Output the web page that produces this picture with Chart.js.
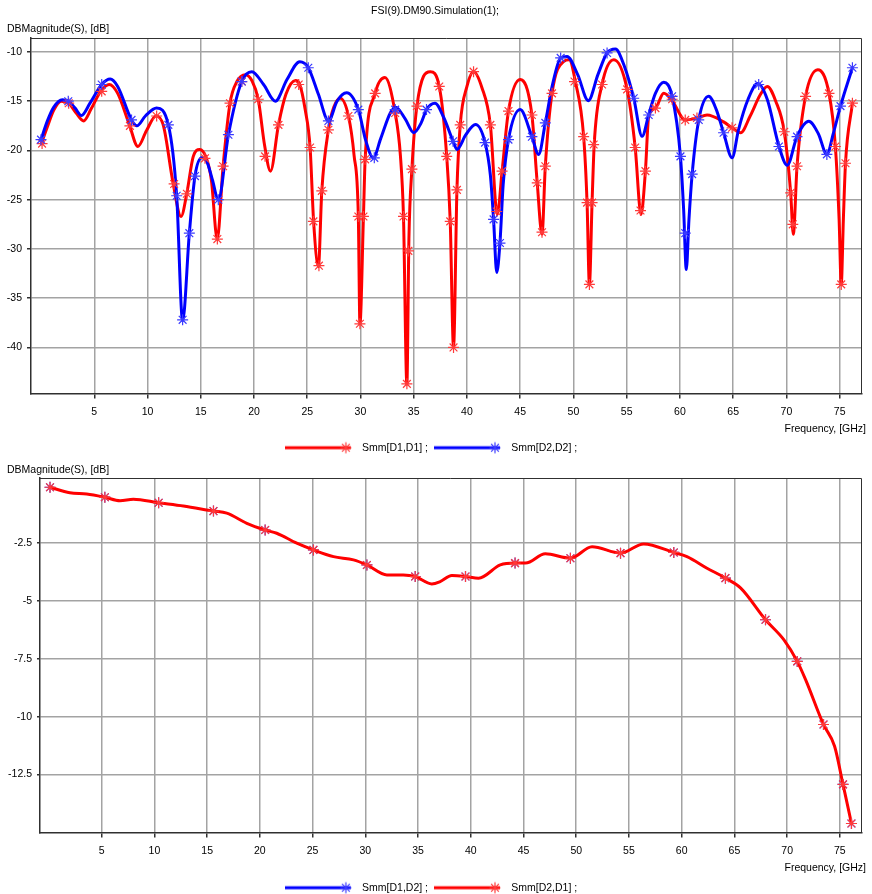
<!DOCTYPE html>
<html><head><meta charset="utf-8">
<script src="https://cdn.jsdelivr.net/npm/chart.js@4.4.1/dist/chart.umd.min.js"></script>
<style>
html,body{margin:0;padding:0;background:#fff;overflow:hidden;width:872px;height:894px;position:relative}
#c1{position:absolute;left:0;top:0}
#c2{position:absolute;left:0;top:440px}
</style></head><body>
<canvas id="c1" width="872" height="463"></canvas>
<canvas id="c2" width="872" height="463"></canvas>
<script>
// ---------- tick labels ----------
const freqTicks = [5,10,15,20,25,30,35,40,45,50,55,60,65,70,75];
const topDbTicks = [-10,-15,-20,-25,-30,-35,-40];
const bottomDbTicks = [-2.5,-5,-7.5,-10,-12.5];

// ---------- top chart: Smm[D1,D1] (red) ----------
const s11Freq = [0.0,0.6,1.2,1.9,2.6,3.3,4.0,4.7,5.6,6.4,7.2,8.3,9.1,9.9,10.8,11.5,12.4,13.15,13.7,14.3,14.9,15.5,16.0,16.55,17.1,17.75,18.4,19.2,19.8,20.4,21.0,21.55,22.3,23.0,23.9,24.3,24.8,25.27,25.6,26.05,26.37,26.99,27.5,28.1,28.87,29.4,29.8,29.95,30.28,30.44,31.38,32.3,33.26,33.75,34.04,34.36,34.55,34.83,35.3,36.55,37.4,38.1,38.43,38.74,39.06,39.37,40.0,40.62,41.4,42.2,42.85,43.3,43.9,45.0,46.1,46.6,47.05,47.36,47.99,49.1,49.6,50.18,50.96,51.28,51.5,51.75,51.95,52.69,53.8,55.04,55.8,56.35,56.76,57.07,57.7,58.48,59.3,60.5,61.6,62.55,64.1,64.9,65.7,66.6,67.57,68.2,69.0,69.8,70.4,70.65,71.0,71.8,72.95,74.0,74.6,74.95,75.15,75.35,75.55,76.2];
const s11Db = [-19.4,-17.6,-15.9,-15.0,-15.2,-16.2,-17.0,-15.8,-14.0,-13.3,-14.2,-17.4,-19.6,-18.0,-16.5,-17.5,-23.3,-26.7,-24.3,-20.6,-19.9,-20.7,-23.0,-29.0,-21.6,-15.2,-13.0,-12.3,-12.9,-14.8,-19.5,-22.1,-17.4,-14.3,-12.9,-13.3,-15.8,-19.7,-27.2,-31.8,-24.1,-17.9,-15.6,-14.7,-16.5,-20.5,-26.7,-37.6,-26.7,-20.9,-14.2,-12.6,-16.2,-20.5,-26.7,-43.7,-29.0,-21.9,-15.5,-12.0,-13.5,-20.6,-27.2,-40.0,-24.0,-17.4,-13.5,-12.0,-13.6,-17.4,-26.5,-22.1,-16.0,-12.8,-16.4,-23.3,-28.5,-21.6,-14.2,-10.95,-10.8,-13.0,-18.6,-25.3,-33.6,-25.3,-19.4,-13.3,-10.8,-13.8,-19.7,-26.5,-22.1,-16.5,-15.7,-14.2,-15.0,-16.9,-16.7,-16.4,-17.1,-17.7,-18.2,-16.5,-14.3,-13.5,-15.0,-18.1,-24.3,-28.5,-21.6,-14.5,-11.8,-14.2,-19.6,-27.0,-33.6,-27.0,-21.3,-15.2];
const s11MarkFreq = [0.1,2.6,5.7,8.35,10.86,12.5,13.7,15.4,16.56,17.1,17.75,18.85,20.4,21.04,22.3,24.2,25.27,25.58,26.1,26.37,26.99,28.87,29.8,29.95,30.28,30.44,31.38,33.26,34.04,34.36,34.5,34.83,35.3,37.4,38.1,38.43,38.74,39.06,39.37,40.62,42.2,42.8,43.3,43.9,46.1,46.6,47.05,47.36,47.99,50.1,50.96,51.28,51.5,51.75,51.9,52.69,55.04,55.8,56.3,56.76,57.7,59.27,60.5,61.6,64.9,69.8,70.4,70.6,71.0,71.8,74.0,74.6,75.15,75.55,76.2];
const s11MarkDb = [-19.3,-15.2,-14.0,-17.5,-16.5,-23.4,-24.4,-20.8,-29.0,-21.6,-15.2,-13.0,-14.8,-20.6,-17.4,-13.3,-19.7,-27.2,-31.7,-24.1,-17.9,-16.5,-26.7,-37.6,-26.7,-20.9,-14.2,-16.2,-26.7,-43.7,-30.2,-21.9,-15.5,-13.5,-20.6,-27.2,-40.0,-24.0,-17.4,-12.0,-17.4,-26.2,-22.1,-16.0,-16.4,-23.3,-28.3,-21.6,-14.2,-13.0,-18.6,-25.3,-33.6,-25.3,-19.4,-13.3,-13.8,-19.7,-26.1,-22.1,-15.7,-14.8,-16.9,-16.7,-17.7,-18.1,-24.3,-27.5,-21.6,-14.5,-14.2,-19.6,-33.6,-21.3,-15.2];

// ---------- top chart: Smm[D2,D2] (blue) ----------
const s22Freq = [0.0,0.6,1.2,2.0,2.6,3.2,3.8,4.6,5.7,6.5,7.2,8.5,9.0,9.8,10.86,11.96,12.74,13.3,13.93,14.46,15.1,15.6,16.1,16.65,17.6,18.85,19.8,20.9,22.0,23.1,24.3,25.1,26.05,27.0,27.8,28.7,29.8,30.5,31.2,31.9,32.8,33.3,34.2,35.0,35.7,36.2,37.0,37.8,38.7,39.06,39.9,40.8,41.7,42.2,42.5,42.8,43.1,43.4,43.9,45.0,46.1,46.73,47.36,48.0,48.8,49.4,50.4,51.4,52.3,53.16,53.94,54.8,55.66,56.45,57.07,57.7,58.48,59.27,60.05,60.35,60.6,60.85,61.15,61.77,62.7,63.4,64.1,64.9,65.5,66.4,67.3,68.2,69.3,70.08,71.0,72.1,73.0,73.8,74.4,75.08,76.2];
const s22Db = [-18.9,-17.0,-15.6,-14.85,-15.0,-15.7,-16.45,-15.2,-13.3,-12.75,-13.5,-16.9,-17.5,-16.5,-15.7,-17.4,-24.6,-37.3,-28.4,-22.6,-20.75,-21.2,-23.0,-25.0,-18.4,-13.0,-12.0,-13.3,-15.0,-12.8,-11.0,-11.6,-14.3,-17.0,-15.0,-14.15,-15.85,-19.0,-20.75,-18.8,-16.2,-15.6,-16.8,-18.2,-17.2,-15.85,-15.2,-16.6,-19.07,-19.9,-18.4,-17.37,-19.2,-22.5,-27.0,-32.4,-29.4,-23.5,-18.9,-15.85,-18.6,-20.4,-17.2,-13.5,-10.6,-10.45,-12.3,-14.94,-12.3,-10.1,-9.7,-11.5,-14.67,-18.56,-16.36,-14.2,-13.08,-14.5,-20.6,-26.0,-32.1,-27.0,-22.4,-16.9,-14.5,-15.8,-18.2,-20.75,-17.9,-14.8,-13.2,-14.8,-19.57,-21.5,-18.56,-17.04,-18.3,-20.4,-18.3,-15.5,-11.6];
const s22MarkFreq = [0.0,2.56,5.7,8.5,11.96,12.74,13.3,13.93,14.46,16.65,17.6,18.85,25.1,26.99,29.8,31.3,33.26,36.2,38.7,41.7,42.5,43.1,43.9,46.1,47.36,48.8,53.16,55.66,57.07,59.27,60.05,60.5,61.15,61.77,64.1,67.4,69.3,71.0,73.8,75.08,76.2];
const s22MarkDb = [-18.9,-15.0,-13.3,-16.9,-17.4,-24.6,-37.2,-28.4,-22.6,-25.0,-18.4,-13.0,-11.6,-17.0,-15.85,-20.75,-15.85,-15.85,-19.07,-19.2,-27.0,-29.4,-18.9,-18.6,-17.2,-10.6,-10.1,-14.7,-16.4,-14.5,-20.6,-28.4,-22.4,-16.9,-18.2,-13.3,-19.6,-18.6,-20.4,-15.5,-11.6];

// ---------- bottom chart: Smm[D1,D2] / Smm[D2,D1] ----------
const s21Freq = [0.1,1.98,3.58,5.3,6.74,8.0,10.4,12.75,15.6,16.86,18.76,20.5,21.6,23.5,25.08,26.98,28.88,30.15,32.05,33.6,34.73,36.3,37.1,38.2,39.5,40.74,42.8,44.2,45.2,47.07,49.45,51.5,54.2,56.4,59.25,60.5,62.4,64.15,65.6,67.95,69.7,70.96,71.75,73.45,74.5,75.3,76.1];
const s21Db = [-0.08,-0.32,-0.37,-0.51,-0.66,-0.60,-0.75,-0.89,-1.11,-1.2,-1.64,-1.93,-2.07,-2.5,-2.79,-3.08,-3.22,-3.44,-3.87,-3.87,-3.94,-4.26,-4.16,-3.9,-3.94,-4.01,-3.44,-3.36,-3.36,-2.96,-3.15,-2.65,-2.93,-2.53,-2.9,-3.08,-3.58,-4.01,-4.44,-5.81,-6.68,-7.61,-8.4,-10.34,-11.28,-12.93,-14.62];
const s12Freq = s21Freq;
const s12Db = s21Db;
const s21MarkFreq = [0.1,5.3,10.4,15.6,20.5,25.08,30.15,34.73,39.5,44.2,49.45,54.2,59.25,64.15,67.95,70.96,73.45,75.3,76.1];
const s21MarkDb = [-0.08,-0.51,-0.75,-1.11,-1.93,-2.79,-3.44,-3.94,-3.94,-3.36,-3.15,-2.93,-2.9,-4.01,-5.81,-7.61,-10.34,-12.93,-14.62];

// ---------- helpers ----------
const pts = (f, v) => f.map((x, i) => ({x: x, y: v[i]}));
const RED = '#ff0000', BLUE = '#0000ff';
const RED_M = '#ff3a3a', BLUE_M = '#3a3aff';
const FONT = {family: '"Liberation Sans", Arial, sans-serif', size: 10.5};
Chart.defaults.font.family = FONT.family;
Chart.defaults.font.size = FONT.size;
Chart.defaults.color = '#000';

function starLine(ctx, cx, cy, r) {
  ctx.beginPath();
  ctx.moveTo(cx, cy - r); ctx.lineTo(cx, cy + r);
  ctx.moveTo(cx - r, cy); ctx.lineTo(cx + r, cy);
  const d = r * Math.SQRT1_2;
  ctx.moveTo(cx - d, cy - d); ctx.lineTo(cx + d, cy + d);
  ctx.moveTo(cx - d, cy + d); ctx.lineTo(cx + d, cy - d);
  ctx.stroke();
}
function legendImg(col, mcol) {
  const c = document.createElement('canvas');
  c.width = 72; c.height = 14;
  const g = c.getContext('2d');
  g.strokeStyle = col; g.lineWidth = 3;
  g.beginPath(); g.moveTo(0, 7); g.lineTo(66, 7); g.stroke();
  g.strokeStyle = mcol; g.lineWidth = 1.2;
  starLine(g, 61, 7, 5.5);
  return c;
}
const redImg = legendImg(RED, RED_M), blueImg = legendImg(BLUE, BLUE_M);

const decor = {
  id: 'decor',
  beforeDatasetsDraw(chart, args, o) {
    const a = chart.chartArea, ctx = chart.ctx;
    ctx.save();
    ctx.strokeStyle = '#303030'; ctx.lineWidth = 1;
    ctx.beginPath();
    ctx.moveTo(a.left, a.top + 0.5); ctx.lineTo(a.right - 0.5, a.top + 0.5); ctx.lineTo(a.right - 0.5, a.bottom);
    ctx.stroke();
    ctx.restore();
  },
  afterDraw(chart, args, o) {
    const ctx = chart.ctx;
    ctx.save();
    ctx.fillStyle = '#000';
    ctx.font = FONT.size + 'px ' + FONT.family;
    ctx.textBaseline = 'middle';
    if (o.title) { ctx.textAlign = 'center'; ctx.fillText(o.title, o.titleX, o.titleY); }
    ctx.textAlign = 'left'; ctx.fillText(o.yLabel, o.yLabelX, o.yLabelY);
    ctx.textAlign = 'right'; ctx.fillText(o.xLabel, o.xLabelX, o.xLabelY);
    ctx.restore();
  }
};

function lineDs(label, data, color, order, width) {
  return {label, data, borderColor: color, backgroundColor: color, borderWidth: width,
    pointRadius: 0, cubicInterpolationMode: 'monotone', fill: false, order};
}
function markDs(label, data, color, order) {
  return {label, data, showLine: false, pointStyle: 'star', pointRadius: 5.5,
    pointBorderColor: color, pointBackgroundColor: color, pointBorderWidth: 1.2, order};
}
function axes(xmin, xmax, ymin, ymax, yTicks, yWidth, xHeight, yTickLen) {
  const grid = {color: '#a3a3a3', lineWidth: 1.5, tickColor: '#303030'};
  return {
    x: {type: 'linear', min: xmin, max: xmax,
      afterBuildTicks: s => { s.ticks = freqTicks.map(v => ({value: v})); },
      afterFit: s => { s.height = xHeight; },
      grid: Object.assign({tickLength: 5}, grid),
      border: {color: '#303030', width: 1.5},
      ticks: {font: FONT, color: '#000', padding: 7, maxRotation: 0, autoSkip: false}},
    y: {type: 'linear', min: ymin, max: ymax,
      afterBuildTicks: s => { s.ticks = yTicks.map(v => ({value: v})); },
      afterFit: s => { s.width = yWidth; },
      grid: Object.assign({tickLength: yTickLen}, grid),
      border: {color: '#303030', width: 1.5},
      ticks: {font: FONT, color: '#000', padding: 5, autoSkip: false}}
  };
}
function legendCfg(items) {
  return {position: 'bottom',
    labels: {usePointStyle: true, pointStyleWidth: 72, padding: 6, font: FONT, color: '#000',
      generateLabels: () => items.map(it => ({text: it.text, pointStyle: it.img,
        fillStyle: 'rgba(0,0,0,0)', strokeStyle: 'rgba(0,0,0,0)', lineWidth: 0,
        hidden: false, datasetIndex: it.ds, fontColor: '#000'}))}};
}

new Chart(document.getElementById('c1'), {
  type: 'line',
  data: {datasets: [
    lineDs('Smm[D1,D1] ;', pts(s11Freq, s11Db), RED, 3, 3),
    lineDs('Smm[D2,D2] ;', pts(s22Freq, s22Db), BLUE, 2, 3),
    markDs('m11', pts(s11MarkFreq, s11MarkDb), RED_M, 1),
    markDs('m22', pts(s22MarkFreq, s22MarkDb), BLUE_M, 0)
  ]},
  options: {
    responsive: false, animation: false, devicePixelRatio: 1,
    layout: {padding: {top: 38, right: 10, left: 0, bottom: 0}},
    plugins: {
      legend: legendCfg([{text: 'Smm[D1,D1] ;', img: redImg, ds: 0}, {text: 'Smm[D2,D2] ;', img: blueImg, ds: 1}]),
      tooltip: {enabled: false},
      decor: {title: 'FSI(9).DM90.Simulation(1);', titleX: 435, titleY: 11,
        yLabel: 'DBMagnitude(S), [dB]', yLabelX: 7, yLabelY: 29,
        xLabel: 'Frequency, [GHz]', xLabelX: 866, xLabelY: 429}
    },
    scales: axes(-0.94, 77.1, -44.68, -8.58, topDbTicks, 31, 43, 4)
  },
  plugins: [decor]
});

new Chart(document.getElementById('c2'), {
  type: 'line',
  data: {datasets: [
    lineDs('Smm[D1,D2] ;', pts(s12Freq, s12Db), BLUE, 3, 1.5),
    lineDs('Smm[D2,D1] ;', pts(s21Freq, s21Db), RED, 1, 3),
    markDs('m12', pts(s21MarkFreq, s21MarkDb), BLUE_M, 2),
    markDs('m21', pts(s21MarkFreq, s21MarkDb), RED_M, 0)
  ]},
  options: {
    responsive: false, animation: false, devicePixelRatio: 1,
    layout: {padding: {top: 38, right: 10, left: 0, bottom: 0}},
    plugins: {
      legend: legendCfg([{text: 'Smm[D1,D2] ;', img: blueImg, ds: 0}, {text: 'Smm[D2,D1] ;', img: redImg, ds: 1}]),
      tooltip: {enabled: false},
      decor: {yLabel: 'DBMagnitude(S), [dB]', yLabelX: 7, yLabelY: 30,
        xLabel: 'Frequency, [GHz]', xLabelX: 866, xLabelY: 428}
    },
    scales: axes(-0.85, 77.1, -15.01, 0.32, bottomDbTicks, 40, 44, 3)
  },
  plugins: [decor]
});
</script>
</body></html>
